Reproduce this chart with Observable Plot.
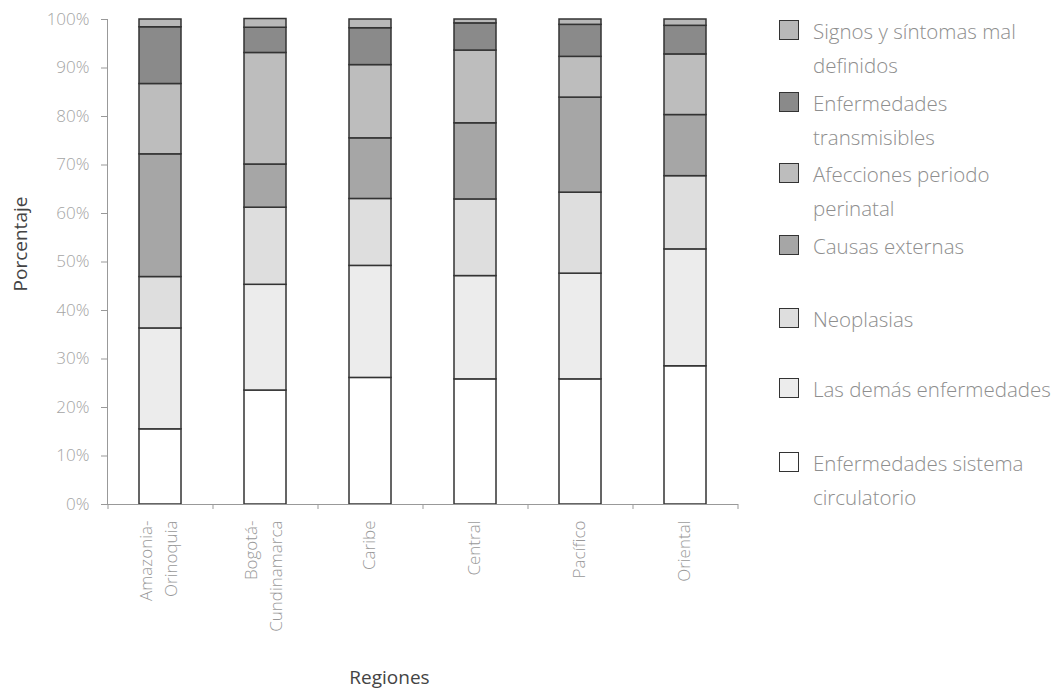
<!DOCTYPE html>
<html>
<head>
<meta charset="utf-8">
<script src="https://cdn.jsdelivr.net/npm/d3@7"></script>
<script src="https://cdn.jsdelivr.net/npm/@observablehq/plot@0.6"></script>
<style>
  html, body { margin: 0; padding: 0; background: #fff; }
  #wrap { position: relative; width: 1062px; height: 699px; font-family: "Open Sans", sans-serif; }
  #chart { position: absolute; left: 0; top: 0; }
  .lg-item { position: absolute; left: 779px; }
  .lg-sw { position: absolute; left: 0; width: 20px; height: 20px; border: 1.5px solid #333; box-sizing: border-box; }
  .lg-tx { position: absolute; left: 34px; white-space: pre; font-size: 20.5px; line-height: 34px; color: #8e8e8e; font-weight: 300; }
</style>
</head>
<body>
<div id="wrap"><div id="chart"></div><div id="legend"></div></div>
<script>
// ---- data ----
const regiones = ["Amazonia-\nOrinoquia", "Bogotá-\nCundinamarca", "Caribe", "Central", "Pacífico", "Oriental"];
const causas = [
  "Enfermedades sistema circulatorio",
  "Las demás enfermedades",
  "Neoplasias",
  "Causas externas",
  "Afecciones periodo perinatal",
  "Enfermedades transmisibles",
  "Signos y síntomas mal definidos"
];
const circulatorio  = [15.5, 23.5, 26.1, 25.8, 25.8, 28.5];
const demas         = [20.8, 21.8, 23.1, 21.3, 21.8, 24.1];
const neoplasias    = [10.6, 15.9, 13.8, 15.8, 16.7, 15.1];
const externas      = [25.3,  8.9, 12.5, 15.7, 19.6, 12.6];
const perinatal     = [14.5, 23.0, 15.1, 15.0,  8.4, 12.5];
const transmisibles = [11.7,  5.2,  7.6,  5.6,  6.6,  5.9];
const signos        = [ 1.6,  1.8,  1.8,  0.8,  1.1,  1.3];
const series = [circulatorio, demas, neoplasias, externas, perinatal, transmisibles, signos];
const colores = ["#ffffff", "#ececec", "#dedede", "#a6a6a6", "#bdbdbd", "#8a8a8a", "#b8b8b8"];
const yTicks = [0, 10, 20, 30, 40, 50, 60, 70, 80, 90, 100];
const legendLabels = [
  "Signos y síntomas mal\ndefinidos",
  "Enfermedades\ntransmisibles",
  "Afecciones periodo\nperinatal",
  "Causas externas",
  "Neoplasias",
  "Las demás enfermedades",
  "Enfermedades sistema\ncirculatorio"
];
const legendTops = [20, 92, 163, 235, 308, 378, 452];

// ---- table ----
const rows = [];
causas.forEach((c, k) => regiones.forEach((r, i) => rows.push({region: r, cause: c, value: series[k][i]})));

// ---- layout ----
const W = 760, H = 699, ML = 107, MR = 23, MT = 19, MB = 195;
const step = (W - ML - MR) / regiones.length;

const chart = Plot.plot({
  width: W, height: H,
  marginLeft: ML, marginRight: MR, marginTop: MT, marginBottom: MB,
  style: {fontFamily: "Open Sans, sans-serif", fontSize: "17px", color: "#999", background: "#fff"},
  x: {domain: regiones, paddingInner: 0.6, paddingOuter: 0.3, axis: null},
  y: {domain: [0, 100], axis: null},
  color: {domain: causas, range: colores},
  marks: [
    Plot.barY(rows, {x: "region", y: "value", fill: "cause", stroke: "#333", strokeWidth: 1.5, order: null}),
    Plot.frame({anchor: "left", stroke: "#999"}),
    Plot.frame({anchor: "bottom", stroke: "#999"}),
    Plot.axisY({ticks: yTicks, tickFormat: d => d + "%", tickSize: 6, tickPadding: 12, stroke: "#999", fill: "#a4a4a4", fontWeight: 300, label: null}),
    Plot.ruleX(regiones, {x: d => d, dx: -step / 2, y1: 0, y2: 0, insetBottom: -5, stroke: "#999"}),
    Plot.ruleX(regiones.slice(-1), {x: d => d, dx: step / 2, y1: 0, y2: 0, insetBottom: -5, stroke: "#999"}),
    Plot.axisX({tickSize: 0, tickPadding: 16, tickRotate: -90, textAnchor: "end", lineAnchor: "middle", lineHeight: 1.5, dx: -4, fill: "#999", fontWeight: 300, label: null}),
    Plot.text(["Porcentaje"], {frameAnchor: "left", rotate: -90, dx: -87, dy: -18, fontSize: 19, fill: "#444", textAnchor: "middle"}),
    Plot.text(["Regiones"], {frameAnchor: "bottom", dx: -33, dy: 179, fontSize: 19, fill: "#444", textAnchor: "middle"})
  ]
});
document.getElementById("chart").appendChild(chart);

// ---- legend ----
const legend = document.getElementById("legend");
const order = causas.slice().reverse();
order.forEach((c, j) => {
  const item = document.createElement("div");
  item.className = "lg-item";
  item.style.top = legendTops[j] + "px";
  const sw = document.createElement("div");
  sw.className = "lg-sw";
  sw.style.top = "0px";
  sw.style.background = colores[causas.indexOf(c)];
  const tx = document.createElement("div");
  tx.className = "lg-tx";
  tx.style.top = "-6px";
  tx.textContent = legendLabels[j];
  item.appendChild(sw);
  item.appendChild(tx);
  legend.appendChild(item);
});
</script>
</body>
</html>
